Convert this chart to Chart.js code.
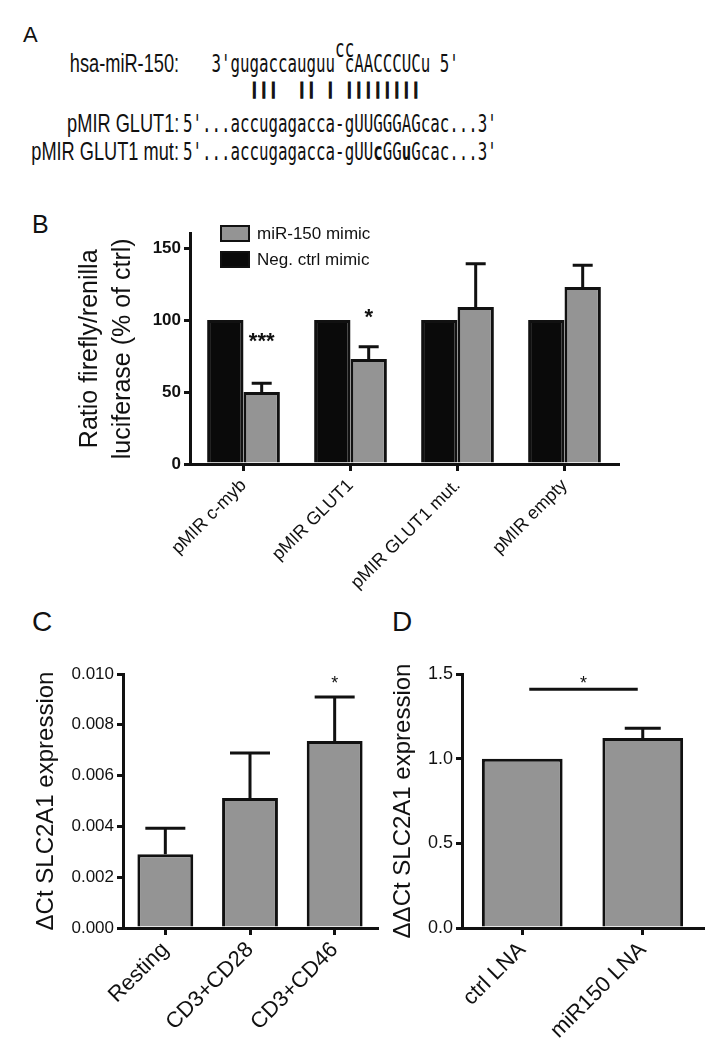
<!DOCTYPE html>
<html>
<head>
<meta charset="utf-8">
<script src="https://cdn.jsdelivr.net/npm/chart.js@4.4.1/dist/chart.umd.min.js"></script>
<style>
  html, body { margin: 0; padding: 0; background: #fff; }
  #fig { position: relative; width: 720px; height: 1049px; overflow: hidden;
         font-family: "Liberation Sans", Arial, sans-serif; color: #111; }
  .abs { position: absolute; white-space: pre; line-height: 1; }
  .lbl { font-size: 26px; right: 541px; text-align: right; transform: scaleX(0.7); transform-origin: right top; }
  .seq { font-family: "DejaVu Sans Mono", monospace; font-size: 24px; left: 183px;
         transform: scaleX(0.658); transform-origin: left top; }
  .bars { font-family: "DejaVu Sans Mono", monospace; font-weight: bold; font-size: 16px; left: 183px;
          letter-spacing: -0.13px; -webkit-text-stroke: 1.2px #111; }
  canvas { position: absolute; }
</style>
</head>
<body>
<div id="fig">
  <div class="abs" style="left:23px;top:24px;font-size:22px;">A</div>
  <div class="abs" style="left:32px;top:212px;font-size:25px;">B</div>
  <div class="abs" style="left:32px;top:608px;font-size:28px;">C</div>
  <div class="abs" style="left:392px;top:608px;font-size:28px;">D</div>

  <div class="abs lbl" style="top:50px;">hsa-miR-150:</div>
  <div class="abs lbl" style="top:110px;">pMIR GLUT1:</div>
  <div class="abs lbl" style="top:138px;">pMIR GLUT1 mut:</div>

  <div class="abs seq" style="top:36.7px;">                cc</div>
  <div class="abs seq" style="top:51.7px;">   3'gugaccauguu cAACCCUCu 5'</div>
  <div class="abs bars" style="top:80.7px;">       |||  || | ||||||||</div>
  <div class="abs seq" style="top:111.7px;">5'...accugagacca-gUUGGGAGcac...3'</div>
  <div class="abs seq" style="top:139.7px;">5'...accugagacca-gUU<b>c</b>GG<b>u</b>Gcac...3'</div>

  <canvas id="chartB" width="640" height="410" style="left:0;top:190px;"></canvas>
  <canvas id="chartC" width="380" height="449" style="left:0;top:600px;"></canvas>
  <canvas id="chartD" width="340" height="449" style="left:380px;top:600px;"></canvas>
</div>

<script>
// ---- panel B: luciferase reporter ----
const groupsB = ['pMIR c-myb', 'pMIR GLUT1', 'pMIR GLUT1 mut.', 'pMIR empty'];
const negCtrlB = [100, 100, 100, 100];
const mimicB = [50, 73, 109, 123];
const mimicErrB = [6, 8.5, 30, 15];
const starsB = ['***', '*', '', ''];
const starAtB = [89, 106, null, null];
const ticksB = [0, 50, 100, 150];

// ---- panel C: SLC2A1 after activation ----
const groupsC = ['Resting', 'CD3+CD28', 'CD3+CD46'];
const valuesC = [0.0029, 0.00512, 0.00736];
const errC = [0.00103, 0.00177, 0.00173];
const starsC = ['', '', '*'];
const starAtC = [null, null, 0.0098];
const ticksC = [0, 0.002, 0.004, 0.006, 0.008, 0.010];

// ---- panel D: SLC2A1 after LNA ----
const groupsD = ['ctrl LNA', 'miR150 LNA'];
const valuesD = [1.0, 1.122];
const errD = [0, 0.058];
const ticksD = [0, 0.5, 1.0, 1.5];
const bracketD = { from: 0, to: 1, y: 1.41, star: '*', starAt: 1.47 };

const INK = '#111';
const GREY = '#949494';
const SANS = '"Liberation Sans", Arial, sans-serif';

// error bars, stars, brackets and the inset legend
const extras = {
  id: 'extras',
  afterDatasetsDraw(chart, args, opts) {
    const ctx = chart.ctx;
    const ys = chart.scales.y;
    const xs = chart.scales.x;
    ctx.save();
    ctx.strokeStyle = INK;
    ctx.fillStyle = INK;
    ctx.lineWidth = 3;
    chart.data.datasets.forEach((ds, di) => {
      const meta = chart.getDatasetMeta(di);
      meta.data.forEach((bar, i) => {
        const e = ds.errors ? ds.errors[i] : 0;
        if (e) {
          const top = ys.getPixelForValue(ds.data[i] + e);
          ctx.beginPath();
          ctx.moveTo(bar.x, bar.y);
          ctx.lineTo(bar.x, top);
          ctx.moveTo(bar.x - opts.cap / 2, top);
          ctx.lineTo(bar.x + opts.cap / 2, top);
          ctx.stroke();
        }
        if (ds.stars && ds.stars[i]) {
          ctx.font = opts.starFont;
          ctx.textAlign = 'center';
          ctx.textBaseline = 'alphabetic';
          ctx.fillText(ds.stars[i], bar.x, ys.getPixelForValue(ds.starAt[i]) + opts.starSize * 0.57);
        }
      });
    });
    if (opts.bracket) {
      const b = opts.bracket;
      const x1 = xs.getPixelForValue(b.from) + 7;
      const x2 = xs.getPixelForValue(b.to) - 5;
      const y = ys.getPixelForValue(b.y);
      ctx.beginPath();
      ctx.moveTo(x1, y);
      ctx.lineTo(x2, y);
      ctx.stroke();
      ctx.font = opts.starFont;
      ctx.textAlign = 'center';
      ctx.fillText(b.star, (x1 + x2) / 2, ys.getPixelForValue(b.starAt) + opts.starSize * 0.57);
    }
    if (opts.legend) {
      const L = opts.legend;
      const items = chart.data.datasets.slice().reverse();
      items.forEach((ds, k) => {
        const top = L.y + k * L.gap;
        ctx.fillStyle = ds.backgroundColor;
        ctx.fillRect(L.x, top, L.w, L.h);
        ctx.lineWidth = 2;
        ctx.strokeStyle = INK;
        ctx.strokeRect(L.x + 1, top + 1, L.w - 2, L.h - 2);
        ctx.fillStyle = INK;
        ctx.font = L.font;
        ctx.textAlign = 'left';
        ctx.textBaseline = 'middle';
        ctx.fillText(ds.label, L.x + L.w + 7, top + L.h / 2 + 1);
      });
    }
    ctx.restore();
  }
};

function axes(o) {
  const line = { display: true, drawOnChartArea: false, drawTicks: true, color: INK, lineWidth: 3 };
  return {
    x: {
      grid: Object.assign({}, line, { offset: false, tickLength: 7 }),
      border: { display: true, color: INK, width: 3 },
      ticks: { color: INK, font: o.xFont, maxRotation: 45, minRotation: 45, autoSkip: false, padding: o.xPad },
      afterFit(s) { s.height = o.xHeight; }
    },
    y: {
      min: 0,
      max: o.max,
      grid: Object.assign({}, line, { tickLength: 6 }),
      border: { display: true, color: INK, width: 3 },
      ticks: { color: INK, font: o.yFont, padding: 3, callback: v => o.fmt(v) },
      afterBuildTicks(s) { s.ticks = o.ticks.map(v => ({ value: v })); },
      afterFit(s) { s.width = o.yWidth; },
      title: { display: true, text: o.title, color: INK, font: o.titleFont, padding: { top: o.titlePad, bottom: 0 } }
    }
  };
}

function barChart(id, data, scales, padding, extraOpts) {
  return new Chart(document.getElementById(id).getContext('2d'), {
    type: 'bar',
    data: data,
    options: {
      responsive: false,
      animation: false,
      devicePixelRatio: 1,
      layout: { padding: padding },
      plugins: { legend: { display: false }, tooltip: { enabled: false }, extras: extraOpts },
      scales: scales
    },
    plugins: [extras]
  });
}

barChart('chartB', {
  labels: groupsB,
  datasets: [
    { label: 'Neg. ctrl mimic', data: negCtrlB, backgroundColor: '#0a0a0a', borderColor: INK, borderWidth: 3,
      categoryPercentage: 0.68, barPercentage: 1 },
    { label: 'miR-150 mimic', data: mimicB, errors: mimicErrB, stars: starsB, starAt: starAtB,
      backgroundColor: GREY, borderColor: INK, borderWidth: 3, categoryPercentage: 0.68, barPercentage: 1 }
  ]
}, axes({
  max: 160, ticks: ticksB, fmt: v => String(v), yWidth: 190, xHeight: 136, xPad: 4,
  yFont: { family: SANS, size: 17, weight: 'bold' },
  xFont: { family: SANS, size: 18 },
  title: ['Ratio firefly/renilla', 'luciferase (% of ctrl)'],
  titleFont: { family: SANS, size: 25, lineHeight: 1.32 }, titlePad: 73.5
}), { top: 43.6, right: 22, left: 0, bottom: 0 }, {
  cap: 20, starFont: 'bold 22px ' + SANS, starSize: 22,
  legend: { x: 220, y: 35, w: 30, h: 17, gap: 26, font: '17px ' + SANS }
});

barChart('chartC', {
  labels: groupsC,
  datasets: [
    { label: 'SLC2A1', data: valuesC, errors: errC, stars: starsC, starAt: starAtC,
      backgroundColor: GREY, borderColor: INK, borderWidth: 3, categoryPercentage: 0.66, barPercentage: 1 }
  ]
}, axes({
  max: 0.010, ticks: ticksC, fmt: v => v.toFixed(3), yWidth: 123, xHeight: 121, xPad: 2,
  yFont: { family: SANS, size: 17 },
  xFont: { family: SANS, size: 22 },
  title: '\u0394Ct SLC2A1 expression',
  titleFont: { family: SANS, size: 24 }, titlePad: 31.6
}), { top: 74, right: 3, left: 0, bottom: 0 }, {
  cap: 40, starFont: '18px ' + SANS, starSize: 18
});

barChart('chartD', {
  labels: groupsD,
  datasets: [
    { label: 'SLC2A1', data: valuesD, errors: errD,
      backgroundColor: GREY, borderColor: INK, borderWidth: 3, categoryPercentage: 0.67, barPercentage: 1 }
  ]
}, axes({
  max: 1.5, ticks: ticksD, fmt: v => v.toFixed(1), yWidth: 82, xHeight: 121, xPad: 2,
  yFont: { family: SANS, size: 18 },
  xFont: { family: SANS, size: 22 },
  title: '\u0394\u0394Ct SLC2A1 expression',
  titleFont: { family: SANS, size: 24 }, titlePad: 8.6
}), { top: 74, right: 17, left: 0, bottom: 0 }, {
  cap: 36, starFont: '18px ' + SANS, starSize: 18, bracket: bracketD
});
</script>
</body>
</html>
